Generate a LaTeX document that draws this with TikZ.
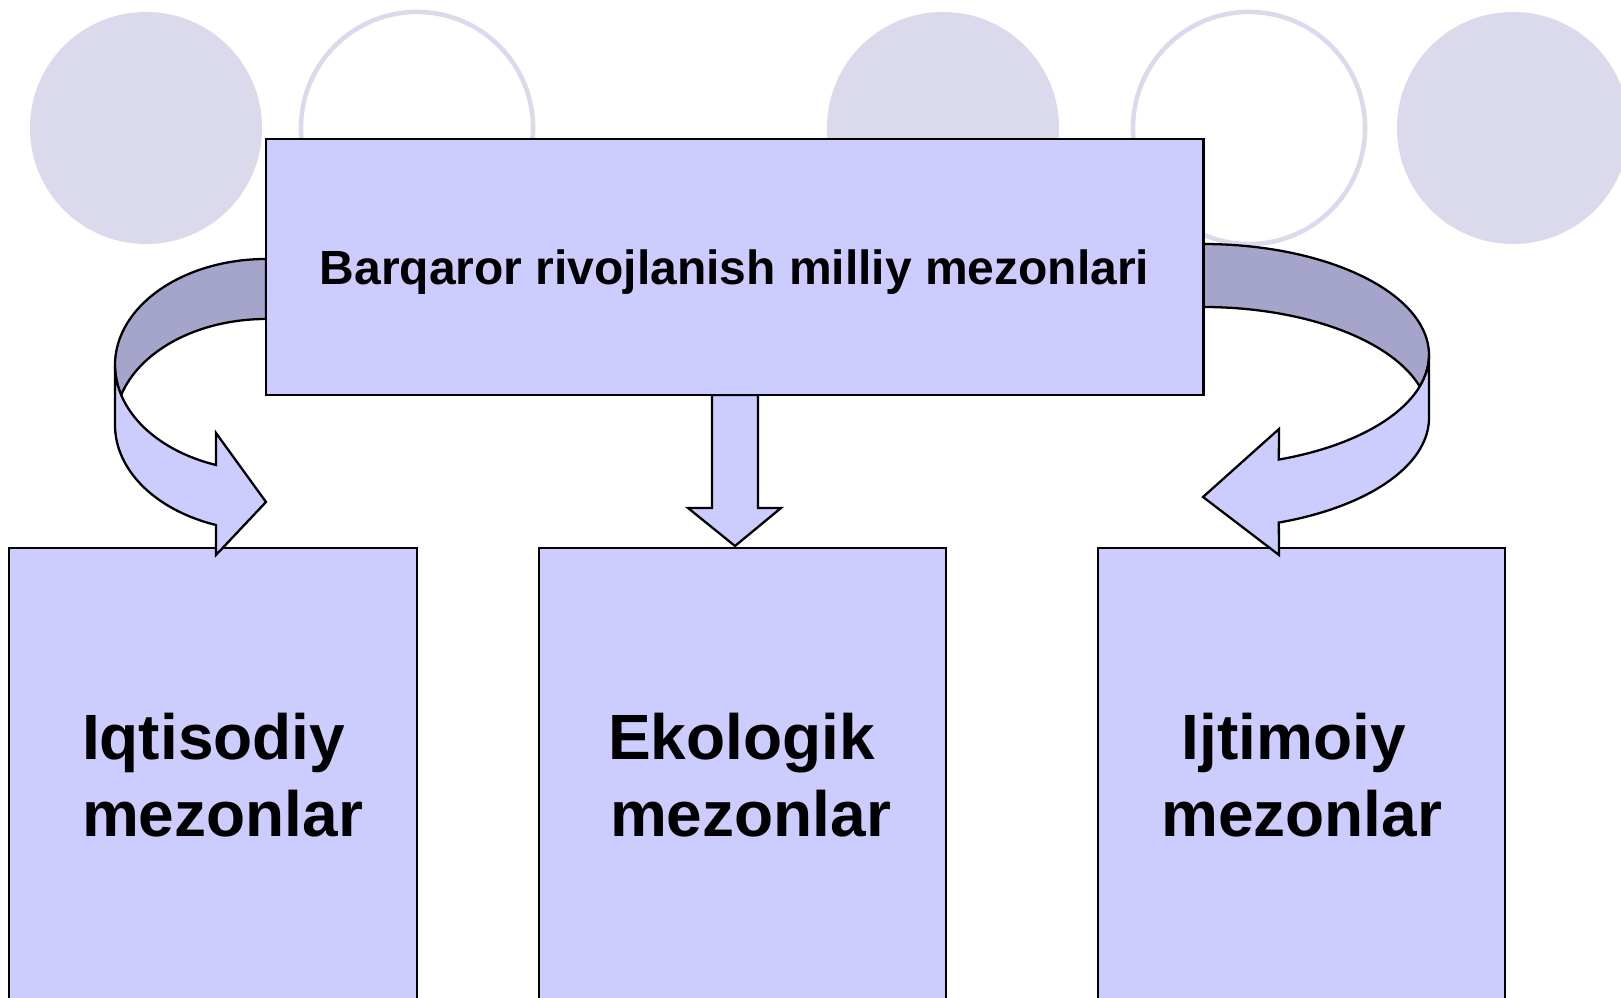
\documentclass[tikz,border=0pt]{standalone}
\usepackage{fontspec}
\setmainfont{Liberation Sans}
\definecolor{boxfill}{RGB}{204,204,255}
\definecolor{darkband}{RGB}{165,165,204}
\definecolor{circ}{RGB}{218,218,236}
\begin{document}
\begin{tikzpicture}[x=0.01cm,y=-0.01cm,
  boxstyle/.style={draw=black, line width=0.7pt, fill=boxfill, inner sep=0pt, outer sep=0pt, rectangle},
  fillcirc/.style={circle, fill=circ, draw=none, minimum size=2.32cm, inner sep=0pt},
  ringcirc/.style={circle, draw=circ, line width=1.3pt, minimum size=2.32cm, inner sep=0pt},
  darkpart/.style={fill=darkband, draw=black, line width=0.65pt, line join=round},
  lightpart/.style={fill=boxfill, draw=black, line width=0.65pt, line join=miter},
  labeltext/.style={font=\fontsize{18.2}{21.9}\selectfont\bfseries, align=center, inner sep=0pt, anchor=north},
]
\useasboundingbox (0,0) rectangle (1621,998);
\clip (0,0) rectangle (1621,998);

% background circles
\node[fillcirc] (c1) at (146,128) {};
\node[ringcirc] (c2) at (417,128) {};
\node[fillcirc] (c3) at (943,128) {};
\node[ringcirc] (c4) at (1249,128) {};
\node[fillcirc] (c5) at (1513,128) {};

% bottom boxes
\node[boxstyle, minimum width=4.08cm, minimum height=4.53cm] (econ) at (213,774.5) {};
\node[boxstyle, minimum width=4.07cm, minimum height=4.53cm] (eco) at (742.5,774.5) {};
\node[boxstyle, minimum width=4.07cm, minimum height=4.53cm] (soc) at (1301.5,774.5) {};

\node[labeltext] (econlbl) at (222.5,712) {Iqtisodiy\kern0.278em\\mezonlar};
\node[labeltext] (ecolbl) at (750.5,712) {Ekologik\kern0.278em\\mezonlar};
\node[labeltext] (soclbl) at (1301.6,712) {Ijtimoiy\kern0.24em\\mezonlar};

% left curved arrow
\draw[darkpart]
  plot[domain=270:163.56, samples=60, variable=\t] ({266+151*cos(\t)},{365+106*sin(\t)})
  -- plot[domain=196.44:270, samples=60, variable=\t] ({266+151*cos(\t)},{425+106*sin(\t)})
  -- cycle;
\coordinate (ltip) at (266,502);
\draw[lightpart]
  plot[domain=180:109.3, samples=60, variable=\t] ({266+151*cos(\t)},{365+106*sin(\t)})
  -- (216,433) -- (ltip) -- (216,555)
  -- plot[domain=109.3:180, samples=60, variable=\t] ({266+151*cos(\t)},{425+106*sin(\t)})
  -- cycle;

% right curved arrow
\draw[darkpart]
  plot[domain=-90:16.49, samples=60, variable=\t] ({1203+226*cos(\t)},{355+111*sin(\t)})
  -- plot[domain=-16.49:-90, samples=60, variable=\t] ({1203+226*cos(\t)},{418+111*sin(\t)})
  -- cycle;
\coordinate (rtip) at (1203,497);
\draw[lightpart]
  plot[domain=0:70.4, samples=60, variable=\t] ({1203+226*cos(\t)},{355+111*sin(\t)})
  -- (1279,429) -- (rtip) -- (1279,555)
  -- plot[domain=70.4:0, samples=60, variable=\t] ({1203+226*cos(\t)},{418+111*sin(\t)})
  -- cycle;

% centre arrow
\coordinate (ctip) at (735,546);
\draw[lightpart] (712,395) -- (712,508) -- (688,508) -- (ctip) -- (781,508) -- (758,508) -- (758,395) -- cycle;

% top box
\node[boxstyle, minimum width=9.37cm, minimum height=2.56cm, text depth=0pt,
      font=\fontsize{13.65}{16}\selectfont\bfseries] (top) at (734.5,267) {Barqaror rivojlanish milliy mezonlari};
\end{tikzpicture}
\end{document}
